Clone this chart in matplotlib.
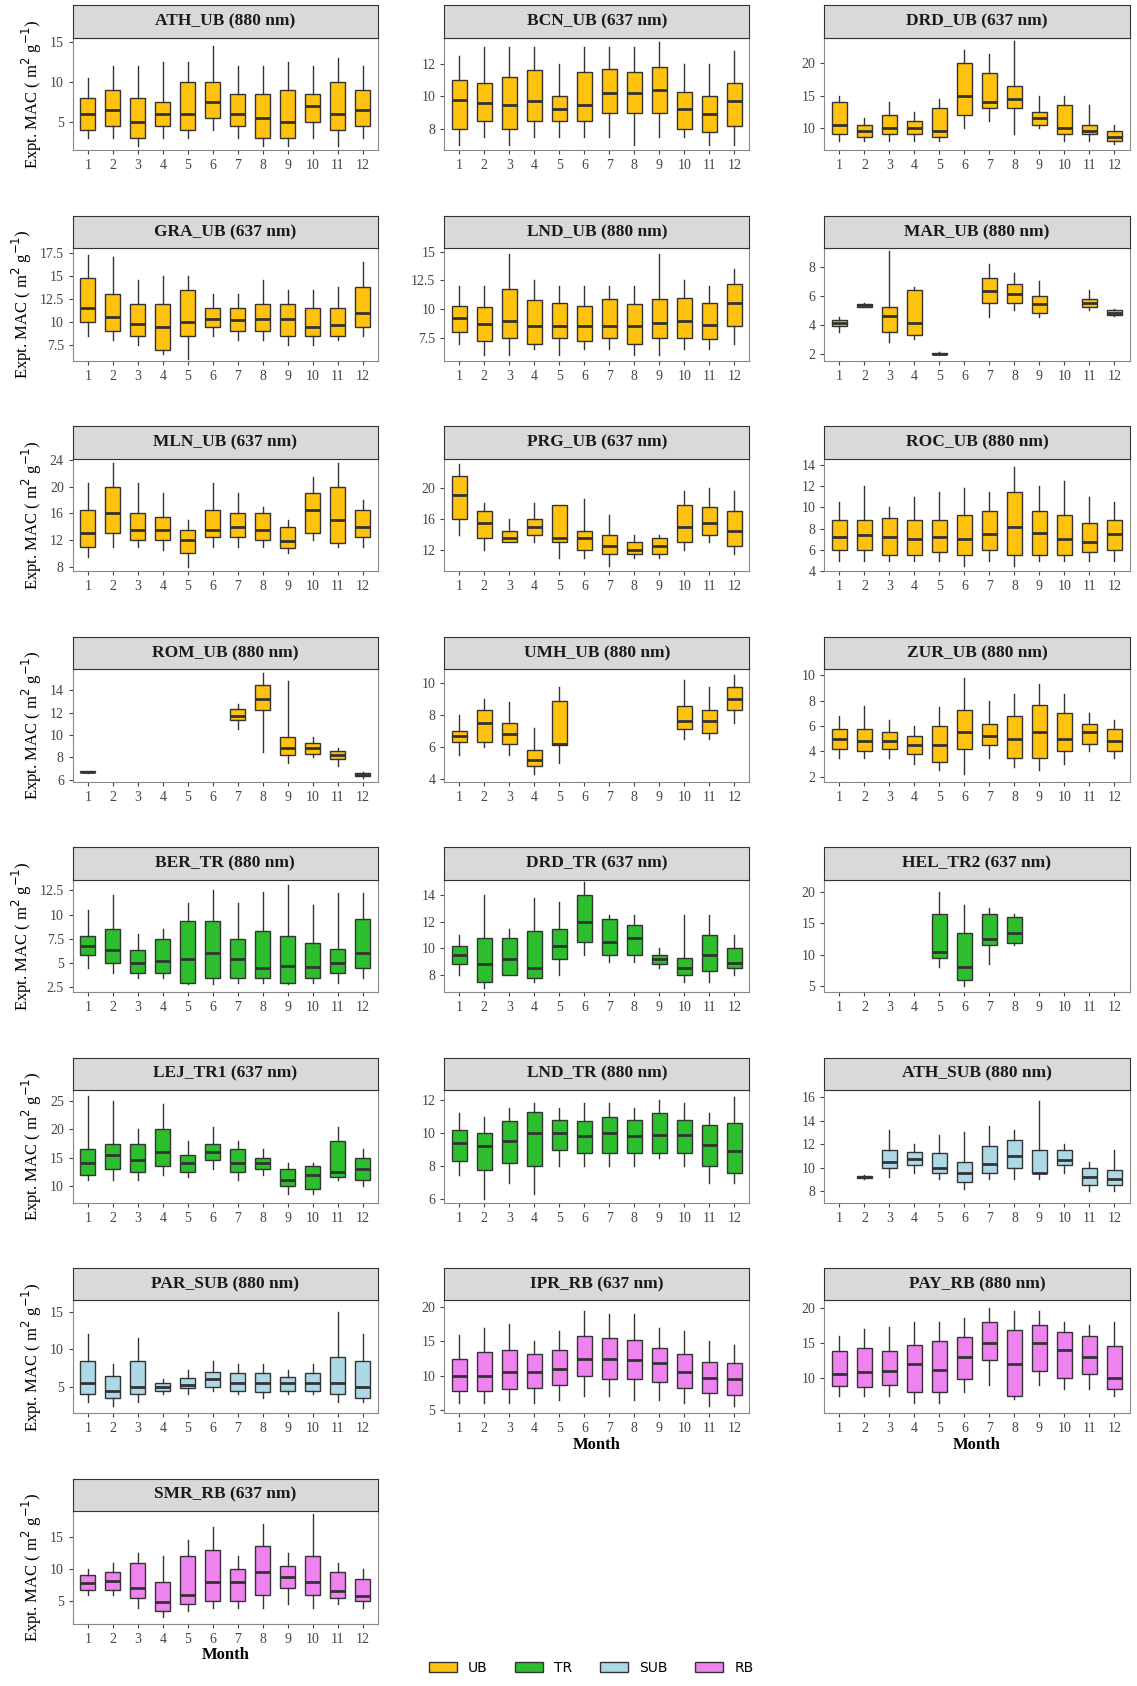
import matplotlib.pyplot as plt
from matplotlib.patches import Patch

plt.rcParams['font.family'] = ['Liberation Serif', 'DejaVu Serif']

months = list(range(1, 13))
N = None

# each station: [whisker low, q1, median, q3, whisker high] per month
ATH_UB = [[3,3,2,3,3,4,3,2,2,3,2,3],
          [4,4.5,3,4.5,4,5.5,4.5,3,3,5,4,4.5],
          [6,6.5,5,6,6,7.5,6,5.5,5,7,6,6.5],
          [8,9,8,7.5,10,10,8.5,8.5,9,8.5,10,9],
          [10.5,12,12,12.5,12.5,14.5,12,12,12.5,12,13,12]]
BCN_UB = [[7,7.5,7,7.5,7.5,7.5,7.5,7,7.5,7.5,7,7],
          [8,8.5,8,8.5,8.5,8.5,9,9,9,8,7.8,8.2],
          [9.8,9.6,9.5,9.7,9.2,9.5,10.2,10.2,10.4,9.2,8.9,9.7],
          [11,10.8,11.2,11.6,10,11.5,11.7,11.5,11.8,10.3,10,10.8],
          [12.5,13,13,13,12,13,13,13,13.3,12,12,12.8]]
DRD_UB = [[8,8,8,8,8,10,11,9,10,8,8,7.5],
          [9,8.5,9,9,8.5,12,13,13,10.5,9,9,8],
          [10.5,9.5,10,10,9.5,15,14,14.5,11.5,10,9.5,8.5],
          [14,10.5,12,11,13,20,18.5,16.5,12.5,13.5,10.5,9.5],
          [15,11.5,14,12.5,14.5,22,21.5,23.5,15,15,13.5,10.5]]
GRA_UB = [[8.5,8,7.5,6.5,6,8.5,8,8,7.5,7.5,8,8.5],
          [10,9,8.5,7,8.5,9.5,9,9,8.5,8.5,8.5,9.5],
          [11.5,10.5,9.8,9.5,10,10.3,10.2,10.3,10.3,9.5,9.7,11],
          [14.8,13,12,12,13.5,11.5,11.5,12,12,11.5,11.5,13.8],
          [17.3,17,14.5,15,15,13,13,14.5,13.5,13.5,13.8,16.5]]
LND_UB = [[7,6,6,6.5,6,6.5,6.5,6,6,6.5,6.5,7],
          [8,7.2,7.5,7,7.5,7.2,7.5,7,7.5,7.5,7.4,8.5],
          [9.2,8.7,9,8.5,8.5,8.5,8.5,8.5,8.8,9,8.6,10.5],
          [10.3,10.2,11.7,10.8,10.5,10.3,10.9,10.4,10.9,11,10.5,12.2],
          [12,12,14.8,12.5,12,12,12,12,14.8,12.5,12,13.5]]
MAR_UB = [[3.5,5.2,2.8,3,1.9,N,4.5,5,4.5,N,5,4.6],
          [3.9,5.25,3.5,3.3,1.95,N,5.5,5.5,4.8,N,5.2,4.7],
          [4.1,5.35,4.6,4.1,2,N,6.3,6.1,5.4,N,5.5,4.8],
          [4.3,5.45,5.2,6.4,2.05,N,7.2,6.8,6,N,5.8,5],
          [4.5,5.5,9.1,6.6,2.1,N,8.2,7.6,7,N,6.4,5.1]]
MLN_UB = [[9.5,11,11,10.5,8,11,11,11,10,12,11,11],
          [11,13,12,12,10,12.5,12.5,12,10.8,13,11.5,12.5],
          [13,16,13.5,13.5,12,13.5,14,13.5,11.8,16.5,15,14],
          [16.5,20,16,15.5,13.5,16.5,16,16,14,19,20,16.5],
          [20.5,23.5,20.5,19,15,20.5,19,17,15,21.5,23.5,18]]
PRG_UB = [[14,12,13,13,11,11,10,11,11,12,13,11.5],
          [16,13.5,13,14,13,12,11.5,11.5,11.5,13,14,12.5],
          [19,15.5,13.5,15,13.5,13.5,12.5,12,12.5,15,15.5,14.5],
          [21.5,17,14.5,16,17.8,14.5,14,13,13.5,17.8,17.5,17],
          [23,18,16,18,17.8,18.5,16.5,14,14,19.5,20,19.5]]
ROC_UB = [[5,5,5,5,5,4.5,5,4.5,5,5,5,5],
          [6,6,5.5,5.5,5.8,5.5,6,5.5,5.5,5.5,5.8,6],
          [7.2,7.4,7.2,7,7.2,7,7.5,8.2,7.6,7,6.8,7.5],
          [8.8,8.8,9,8.8,8.8,9.3,9.7,11.5,9.7,9.3,8.5,8.8],
          [10.5,12,10,11,11.5,11.8,11.5,13.8,12,12.5,11,10.5]]
ROM_UB = [[6.6,N,N,N,N,N,10.5,8.5,7.5,8,7.2,6.1],
          [6.65,N,N,N,N,N,11.3,12.2,8.2,8.3,7.8,6.3],
          [6.7,N,N,N,N,N,11.7,13.2,8.8,8.8,8.2,6.4],
          [6.75,N,N,N,N,N,12.3,14.5,9.8,9.3,8.6,6.6],
          [6.8,N,N,N,N,N,12.8,15.5,14.8,9.8,8.8,6.7]]
UMH_UB = [[5.5,6,5.5,4.3,5,N,N,N,N,6.5,6.5,7.5],
          [6.3,6.3,6.2,4.8,6.1,N,N,N,N,7.1,6.9,8.3],
          [6.7,7.5,6.8,5.2,6.2,N,N,N,N,7.6,7.6,9],
          [7,8.3,7.5,5.8,8.9,N,N,N,N,8.6,8.3,9.8],
          [8,9,8.8,7.2,9.8,N,N,N,N,10.2,9.8,10.5]]
ZUR_UB = [[3.5,3.5,3.5,3,2.5,2.2,3.5,2.8,2.5,3,4,3.5],
          [4.2,4,4.2,3.8,3.2,4.2,4.5,3.5,3.5,4,4.6,4],
          [5,4.8,4.8,4.5,4.5,5.5,5.2,5,5.5,5,5.5,4.8],
          [5.8,5.8,5.5,5.2,6,7.3,6.2,6.8,7.7,7,6.2,5.8],
          [6.8,7.6,6.5,6,7.5,9.8,8,8.5,9.3,8.5,7,6.5]]
BER_TR = [[4.5,4,3.5,3.5,2.8,2.8,3,3,2.8,3,3,3.5],
          [5.8,5,4,4,3,3.5,3.5,3.5,3,3.5,4,4.5],
          [6.8,6.3,5,5.2,5.4,6,5.4,4.5,4.7,4.6,5,6],
          [7.8,8.5,6.3,7.5,9.3,9.3,7.5,8.3,7.8,7.1,6.5,9.5],
          [10.5,12,8,8.5,11.2,12.5,11.2,12.3,13,11,12.2,12.2]]
DRD_TR = [[8,7,8,7.5,8,9.5,9,9,8.5,7.5,7.5,8],
          [8.8,7.5,8,7.8,9.2,10.5,9.5,9.5,8.8,8,8.3,8.5],
          [9.5,8.8,9.2,8.5,10.2,12,10.5,10.8,9.2,8.5,9.5,8.9],
          [10.2,10.8,10.8,11.3,11.5,14,12.2,11.8,9.5,9.3,11,10],
          [11,14,11.5,13.8,13.5,15,12.5,12.5,10,12.5,12.5,11]]
HEL_TR2 = [[N,N,N,N,8,5,8.5,11.5,N,N,N,N],
           [N,N,N,N,9.5,6,11.5,11.8,N,N,N,N],
           [N,N,N,N,10.5,8,12.5,13.5,N,N,N,N],
           [N,N,N,N,16.5,13.5,16.5,16,N,N,N,N],
           [N,N,N,N,20,18,17.5,16.5,N,N,N,N]]
LEJ_TR1 = [[11,11,11,12,11.5,13,11,12,8.5,8.5,11,10],
           [12,13,12.5,13.5,12.5,14.5,12.5,13,10,9.5,11.5,11],
           [14,15.5,14.5,16,14,16,14,14,11,12,12.5,13],
           [16.5,17.5,17.5,20,15.5,17.5,16.5,15,13,13.5,18,15],
           [26,25,20,24.5,18,20.5,18,16.5,14,14,20.5,16.5]]
LND_TR = [[7.5,6,7,6.3,8,8,8,8,8.5,8,7,7],
          [8.3,7.8,8.2,8,9,8.8,8.8,8.8,8.8,8.8,8,7.6],
          [9.4,9.2,9.5,10,10,9.8,10,9.8,9.9,9.9,9.3,8.9],
          [10.2,10,10.7,11.3,10.8,10.7,11,10.8,11.2,10.8,10.5,10.6],
          [11.2,11,11.5,11.8,11.5,11.8,11.8,11.5,12,11.8,11.2,12.2]]
ATH_SUB = [[N,9,9.2,9.5,9,8.2,9,9,9,9.5,8,8],
           [N,9.1,10,10.2,9.5,8.8,9.5,10,9.5,10.2,8.5,8.5],
           [N,9.2,10.5,10.7,10,9.5,10.3,11,9.5,10.6,9.2,9],
           [N,9.3,11.5,11.3,11.2,10.5,11.8,12.3,11.5,11.5,10,9.8],
           [N,9.4,13.2,12,12.8,13,13.5,13.2,15.7,12,10.5,11.5]]
PAR_SUB = [[3,2.5,3,4,4,4.5,4,3.5,4,4,3,3],
           [4,3.5,4,4.5,4.8,5,4.5,4.3,4.5,4.5,4,3.5],
           [5.5,4.5,5,5,5.2,6,5.5,5.5,5.5,5.5,5.5,5],
           [8.5,6.5,8.5,5.5,6.2,7,6.8,6.8,6.3,6.8,9,8.5],
           [12,8,11.5,6,7.2,8.5,8,8,7.2,8,15,12]]
IPR_RB = [[6,6,6,6,6.5,7,7,6.5,6.5,6,5.5,5.5],
          [7.8,7.8,8,8.2,8.7,10,9.5,9.5,9,8.2,7.5,7.2],
          [10,10,10.5,10.5,11,12.5,12.5,12.3,11.8,10.5,9.7,9.5],
          [12.5,13.5,13.8,13.2,13.7,15.8,15.5,15.2,14,13.2,12,11.8],
          [16,17,17.5,15,16.5,19.5,19,19,17,16.5,15,14.5]]
PAY_RB = [[7.5,7.5,7.5,6.5,6.5,8,9,7,9,8.5,8.5,7.5],
          [8.8,8.7,9,8,8,9.8,12.5,7.5,11,10,10.5,8.5],
          [10.5,10.8,11,12,11.2,13,15,12,15,14,13,10],
          [13.8,14.2,13.8,14.7,15.2,15.8,18,16.8,17.5,16.5,16,14.5],
          [16,17,17.2,18,18,18.5,20,19.5,19.5,18,17.5,18]]
SMR_RB = [[6,6,4,2.5,3.5,4,4,4,4.5,4,4.5,4],
          [6.8,6.8,5.5,3.5,4.5,5,5,6,7,6,5.5,5],
          [7.8,8.2,7,4.8,6,8,8,9.5,8.8,8,6.5,5.8],
          [9,9.5,11,8,12,13,10,13.5,10.5,12,9.5,8.5],
          [10,11,12.5,12,14.5,16.5,12,17,12.5,18.5,11,10]]

colors = {'UB': '#FFC20E', 'TR': '#2DBE2D', 'SUB': '#ADD8E6', 'RB': '#EE82EE'}

# title, data, type, ylim, yticks
panels = [
    ('ATH_UB (880 nm)', ATH_UB, 'UB', (1.5, 15.5), [5, 10, 15]),
    ('BCN_UB (637 nm)', BCN_UB, 'UB', (6.7, 13.6), [8, 10, 12]),
    ('DRD_UB (637 nm)', DRD_UB, 'UB', (6.5, 24), [10, 15, 20]),
    ('GRA_UB (637 nm)', GRA_UB, 'UB', (5.8, 18), [7.5, 10, 12.5, 15, 17.5]),
    ('LND_UB (880 nm)', LND_UB, 'UB', (5.5, 15.3), [7.5, 10, 12.5, 15]),
    ('MAR_UB (880 nm)', MAR_UB, 'UB', (1.5, 9.3), [2, 4, 6, 8]),
    ('MLN_UB (637 nm)', MLN_UB, 'UB', (7.3, 24.2), [8, 12, 16, 20, 24]),
    ('PRG_UB (637 nm)', PRG_UB, 'UB', (9.3, 23.7), [12, 16, 20]),
    ('ROC_UB (880 nm)', ROC_UB, 'UB', (4, 14.6), [4, 6, 8, 10, 12, 14]),
    ('ROM_UB (880 nm)', ROM_UB, 'UB', (5.8, 15.9), [6, 8, 10, 12, 14]),
    ('UMH_UB (880 nm)', UMH_UB, 'UB', (3.8, 10.9), [4, 6, 8, 10]),
    ('ZUR_UB (880 nm)', ZUR_UB, 'UB', (1.6, 10.5), [2, 4, 6, 8, 10]),
    ('BER_TR (880 nm)', BER_TR, 'TR', (2, 13.6), [2.5, 5, 7.5, 10, 12.5]),
    ('DRD_TR (637 nm)', DRD_TR, 'TR', (6.7, 15.2), [8, 10, 12, 14]),
    ('HEL_TR2 (637 nm)', HEL_TR2, 'TR', (4, 22), [5, 10, 15, 20]),
    ('LEJ_TR1 (637 nm)', LEJ_TR1, 'TR', (7, 27), [10, 15, 20, 25]),
    ('LND_TR (880 nm)', LND_TR, 'TR', (5.8, 12.6), [6, 8, 10, 12]),
    ('ATH_SUB (880 nm)', ATH_SUB, 'SUB', (7, 16.6), [8, 10, 12, 14, 16]),
    ('PAR_SUB (880 nm)', PAR_SUB, 'SUB', (1.5, 16.5), [5, 10, 15]),
    ('IPR_RB (637 nm)', IPR_RB, 'RB', (4.5, 21), [5, 10, 15, 20]),
    ('PAY_RB (880 nm)', PAY_RB, 'RB', (5, 21), [10, 15, 20]),
    ('SMR_RB (637 nm)', SMR_RB, 'RB', (1.5, 19), [5, 10, 15]),
]

W, H = 1062.0, 1570.0
fig = plt.figure(figsize=(11.37, 16.86), dpi=100)
col_x = [68, 415, 770]
ax_w = 285
for i, (title, d, kind, ylim, yt) in enumerate(panels):
    r, c = divmod(i, 3)
    top = 35 + 196 * r
    ax = fig.add_axes([col_x[c] / W, 1 - (top + 105) / H, ax_w / W, 105 / H])
    stats, pos = [], []
    for m in range(12):
        if d[2][m] is None:
            continue
        stats.append(dict(whislo=d[0][m], q1=d[1][m], med=d[2][m], q3=d[3][m], whishi=d[4][m], fliers=[]))
        pos.append(months[m])
    ax.bxp(stats, positions=pos, widths=0.6, patch_artist=True, showcaps=False,
           boxprops=dict(facecolor=colors[kind], edgecolor='#333333', linewidth=1),
           medianprops=dict(color='#333333', linewidth=2),
           whiskerprops=dict(color='#333333', linewidth=1))
    ax.set_xlim(0.4, 12.6)
    ax.set_xticks(months)
    ax.set_xticklabels([str(m) for m in months])
    ax.set_ylim(*ylim)
    ax.set_yticks(yt)
    ax.set_yticklabels([('%g' % v) for v in yt])
    ax.tick_params(labelsize=10, colors='#444444', length=3)
    for s in ax.spines.values():
        s.set_color('#888888')
    # strip
    sax = fig.add_axes([col_x[c] / W, 1 - (top) / H, ax_w / W, 30 / H])
    sax.set_facecolor('#D9D9D9')
    sax.set_xticks([]); sax.set_yticks([])
    for s in sax.spines.values():
        s.set_color('#333333')
    sax.text(0.5, 0.5, title, ha='center', va='center', fontsize=12.5, fontweight='bold', color='#1a1a1a')
    if c == 0:
        ax.set_ylabel('Expt. MAC ( m$^{2}$ g$^{-1}$)', fontsize=12)
    if title.startswith(('SMR', 'IPR', 'PAY')):
        ax.set_xlabel('Month', fontsize=12, fontweight='bold', labelpad=1)

handles = [Patch(facecolor=colors[k], edgecolor='#333333', label=k) for k in ['UB', 'TR', 'SUB', 'RB']]
fig.legend(handles=handles, loc='center', bbox_to_anchor=(0.52, 1 - 1553 / H), ncol=4,
           frameon=False, fontsize=12, prop={'family': 'DejaVu Sans'})
fig.savefig('out.png', dpi=100)
